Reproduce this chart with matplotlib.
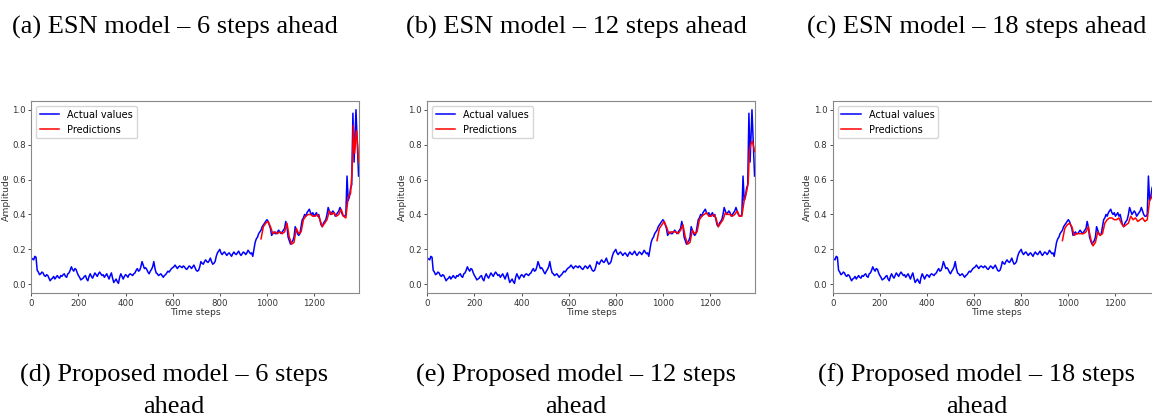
import matplotlib.pyplot as plt
import numpy as np

# actual series, read every 5 steps, plus the final spike
t_actual = np.r_[np.arange(0, 1361, 5), [1365, 1370, 1378, 1383, 1389]]
actual = [
    .15, .145, .14, .16, .155, .08, .07, .055, .06, .07, .065, .05, .045, .055, .05, .035, .02, .03, .035, .045,
    .03, .04, .05, .04, .035, .05, .045, .055, .06, .045, .04, .06, .065, .08, .10, .085, .075, .09, .085, .065,
    .05, .04, .025, .03, .035, .045, .05, .03, .02, .045, .06, .045, .035, .05, .065, .055, .045, .06, .07, .06,
    .05, .055, .04, .05, .06, .045, .03, .05, .065, .035, .01, .02, .03, .015, .005, .04, .06, .045, .03, .045,
    .055, .05, .04, .055, .06, .055, .05, .06, .065, .08, .09, .075, .08, .10, .13, .11, .09, .095, .085, .07,
    .06, .075, .085, .10, .13, .09, .065, .06, .05, .055, .06, .05, .04, .05, .055, .065, .075, .07, .08, .09,
    .095, .10, .11, .10, .09, .10, .105, .10, .095, .105, .10, .09, .085, .095, .105, .10, .09, .10, .11, .095,
    .08, .075, .08, .10, .13, .12, .115, .13, .14, .13, .125, .135, .15, .13, .115, .12, .13, .16, .18, .19,
    .20, .18, .17, .18, .185, .175, .165, .175, .18, .17, .16, .175, .185, .175, .17, .18, .19, .175, .165, .175,
    .185, .18, .17, .18, .195, .185, .175, .18, .16, .20, .24, .26, .27, .29, .30, .31, .33, .34, .35, .36,
    .37, .36, .34, .32, .28, .29, .30, .29, .29, .30, .31, .30, .29, .30, .31, .32, .36, .33, .27, .25,
    .23, .24, .25, .27, .33, .31, .29, .28, .29, .33, .37, .38, .40, .39, .41, .42, .43, .41, .40, .41,
    .39, .40, .41, .39, .40, .37, .34, .33, .35, .36, .37, .40, .44, .42, .40, .41, .42, .41, .39, .40,
    .41, .42, .44, .42, .40, .39, .39, .40, .62, .48, .50, .55, .57,
    .98, .70, 1.00, .82, .62]

t_pred = np.r_[np.arange(975, 1336, 10), [1345, 1355, 1362, 1367, 1372, 1380, 1385, 1389]]
pred_6 = [0.26, 0.33, 0.35, 0.36, 0.33, 0.29, 0.30, 0.29, 0.30, 0.29,
          0.30, 0.35, 0.27, 0.23, 0.24, 0.32, 0.29, 0.30, 0.37, 0.39,
          0.40, 0.40, 0.39, 0.39, 0.40, 0.37, 0.33, 0.35, 0.37, 0.42,
          0.40, 0.41, 0.39, 0.40, 0.43, 0.39, 0.38,
          0.50, 0.52, 0.66, 0.91, 0.75, 0.88, 0.80, 0.70]
pred_12 = [0.25, 0.32, 0.34, 0.36, 0.33, 0.29, 0.30, 0.30, 0.30, 0.29,
           0.31, 0.34, 0.27, 0.23, 0.24, 0.31, 0.29, 0.30, 0.37, 0.39,
           0.40, 0.41, 0.39, 0.39, 0.40, 0.38, 0.33, 0.35, 0.37, 0.41,
           0.40, 0.40, 0.39, 0.40, 0.42, 0.39, 0.39,
           0.48, 0.53, 0.58, 0.76, 0.80, 0.82, 0.79, 0.76]
pred_18 = [0.25, 0.32, 0.34, 0.35, 0.33, 0.28, 0.29, 0.29, 0.29, 0.29,
           0.30, 0.33, 0.26, 0.22, 0.24, 0.30, 0.28, 0.29, 0.35, 0.37,
           0.38, 0.38, 0.37, 0.37, 0.38, 0.35, 0.33, 0.34, 0.35, 0.39,
           0.37, 0.38, 0.36, 0.37, 0.38, 0.36, 0.37,
           0.48, 0.50, 0.56, 0.66, 0.68, 0.70, 0.68, 0.66]

titles = ['(a) ESN model \u2013 6 steps ahead',
          '(b) ESN model \u2013 12 steps ahead',
          '(c) ESN model \u2013 18 steps ahead']
captions = ['(d) Proposed model \u2013 6 steps\nahead',
            '(e) Proposed model \u2013 12 steps\nahead',
            '(f) Proposed model \u2013 18 steps\nahead']
preds = [pred_6, pred_12, pred_18]

W, H = 1152, 419
fig = plt.figure(figsize=(W / 100, H / 100), dpi=100)

lefts = [31.3, 427.3, 832.7]        # axes left edges in pixels
title_x = [175, 576, 977]
cap_x = [174, 576, 977]

for i in range(3):
    ax = fig.add_axes([lefts[i] / W, 126 / H, 327.5 / W, 192 / H])
    ax.plot(t_actual, actual, color='blue', lw=1.1, label='Actual values')
    ax.plot(t_pred, preds[i], color='red', lw=1.1, label='Predictions')
    ax.set_xlim(0, 1390)
    ax.set_ylim(-0.05, 1.05)
    ax.set_xticks([0, 200, 400, 600, 800, 1000, 1200])
    ax.set_yticks([0.0, 0.2, 0.4, 0.6, 0.8, 1.0])
    ax.tick_params(labelsize=6.2, length=2.5, width=0.6, pad=1.5,
                   colors='#333333')
    for sp in ax.spines.values():
        sp.set_color('#888888')
        sp.set_linewidth(0.8)
    ax.set_xlabel('Time steps', fontsize=6.7, labelpad=0.5, color='#333333')
    ax.set_ylabel('Amplitude', fontsize=6.7, labelpad=1, color='#333333')
    ax.legend(loc='upper left', fontsize=7, framealpha=0.8)
    fig.text(title_x[i] / W, 1 - 27 / H, titles[i], ha='center', va='center',
             family='Liberation Serif', fontsize=19)
    fig.text(cap_x[i] / W, 1 - 391 / H, captions[i], ha='center', va='center',
             family='Liberation Serif', fontsize=19, linespacing=1.55)

fig.savefig('out.png', dpi=100)
